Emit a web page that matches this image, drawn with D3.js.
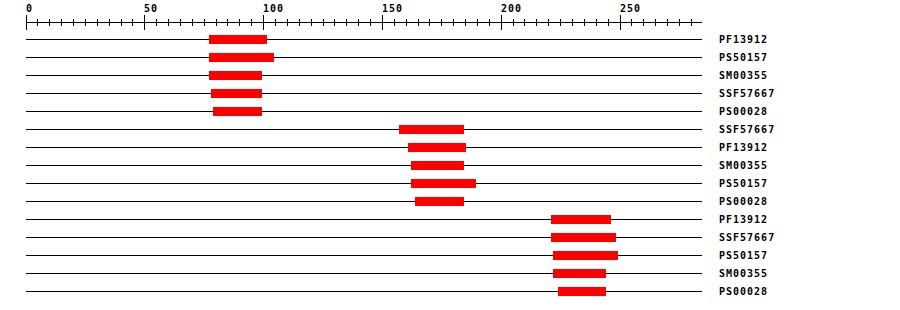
<!DOCTYPE html>
<html>
<head>
<meta charset="utf-8">
<script src="https://cdn.jsdelivr.net/npm/d3@7"></script>
<style>
  body { margin: 0; background: #fff; }
  text { font-family: "DejaVu Sans Mono", monospace; font-weight: bold; font-size: 10px; letter-spacing: 1px; }
</style>
</head>
<body>
<div id="chart"></div>
<script>
// domain hits, one row each (top to bottom)
const names = ["PF13912", "PS50157", "SM00355", "SSF57667", "PS00028",
               "SSF57667", "PF13912", "SM00355", "PS50157", "PS00028",
               "PF13912", "SSF57667", "PS50157", "SM00355", "PS00028"];
const starts = [77, 77, 77, 77.9, 78.7, 157, 160.8, 162, 162, 163.7, 221, 221, 221.8, 221.8, 223.8];
const ends   = [101.4, 104.4, 99.3, 99.3, 99.3, 184.3, 185.2, 184.3, 189.4, 184.3, 246.2, 248.3, 249.2, 244.1, 244.1];
const seqLength = 284.5;
const majorTicks = [0, 50, 100, 150, 200, 250];
const minorStep = 5;

const width = 900, height = 310;

const svg = d3.select("#chart").append("svg")
    .attr("width", width)
    .attr("height", height)
    .attr("shape-rendering", "crispEdges");

const x = d3.scaleLinear().domain([0, seqLength]).range([26, 702]);
const y = d3.scalePoint().domain(d3.range(names.length)).range([39.5, 291.5]);

// ruler on top
const axisY = 22.5;
svg.append("line")
    .attr("x1", x(0)).attr("x2", x(seqLength))
    .attr("y1", axisY).attr("y2", axisY)
    .attr("stroke", "#000");

const minorTicks = d3.range(0, seqLength, minorStep);
svg.selectAll(".tick")
  .data(minorTicks)
  .enter().append("line")
    .attr("x1", d => Math.floor(x(d)) + 0.5)
    .attr("x2", d => Math.floor(x(d)) + 0.5)
    .attr("y1", d => majorTicks.includes(d) ? axisY - 7.5 : axisY - 4)
    .attr("y2", d => majorTicks.includes(d) ? axisY + 7 : axisY + 3)
    .attr("stroke", "#000");

svg.selectAll(".tickLabel")
  .data(majorTicks)
  .enter().append("text")
    .attr("x", d => Math.floor(x(d)))
    .attr("y", 12)
    .text(d => d);

// one row per hit
const rows = svg.selectAll(".row")
  .data(names.map((n, i) => ({name: n, start: starts[i], end: ends[i], i: i})))
  .enter().append("g");

rows.append("line")
    .attr("x1", x(0)).attr("x2", x(seqLength))
    .attr("y1", d => y(d.i)).attr("y2", d => y(d.i))
    .attr("stroke", "#000");

rows.append("rect")
    .attr("x", d => Math.round(x(d.start)))
    .attr("width", d => Math.round(x(d.end)) - Math.round(x(d.start)))
    .attr("y", d => y(d.i) - 4.5)
    .attr("height", 9)
    .attr("fill", "#ff0000");

rows.append("text")
    .attr("x", 719)
    .attr("y", d => y(d.i) + 3)
    .text(d => d.name);
</script>
</body>
</html>
